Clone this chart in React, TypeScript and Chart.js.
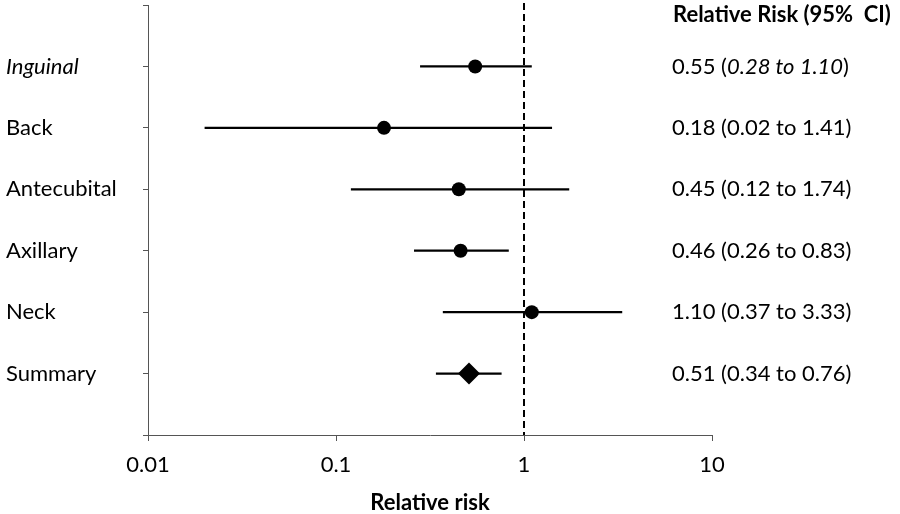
import React, { useEffect, useRef } from "react";
import { Chart, registerables } from "chart.js";

Chart.register(...registerables);

const categories = ["Inguinal", "Back", "Antecubital", "Axillary", "Neck", "Summary"];
const italicCategory = [true, false, false, false, false, false];
const relativeRisk = [0.55, 0.18, 0.45, 0.46, 1.1, 0.51];
const lowerCI = [0.28, 0.02, 0.12, 0.26, 0.37, 0.34];
const upperCI = [1.1, 1.41, 1.74, 0.83, 3.33, 0.76];
const italicCI = [true, false, false, false, false, false];
const isSummary = [false, false, false, false, false, true];
const xTickValues = [0.01, 0.1, 1, 10];
const xTickLabels = ["0.01", "0.1", "1", "10"];
const headerText = "Relative Risk (95%  CI)";
const xTitleText = "Relative risk";
const referenceValue = 1;

const FONT = "Lato, 'Open Sans', sans-serif";
const FS = 22;

export default function App() {
  const ref = useRef<HTMLCanvasElement | null>(null);

  useEffect(() => {
    if (!ref.current) return;

    const forestPlugin = {
      id: "forest",
      beforeDatasetsDraw(chart: any) {
        const { ctx, chartArea } = chart;
        const xs = chart.scales.x;
        const ys = chart.scales.y;
        ctx.save();
        ctx.strokeStyle = "#000";
        ctx.lineWidth = 2.2;
        for (let i = 0; i < categories.length; i++) {
          const y = ys.getPixelForValue(i + 1);
          ctx.beginPath();
          ctx.moveTo(xs.getPixelForValue(lowerCI[i]), y);
          ctx.lineTo(xs.getPixelForValue(upperCI[i]), y);
          ctx.stroke();
        }
        const rx = xs.getPixelForValue(referenceValue);
        ctx.setLineDash([7, 4]);
        ctx.lineWidth = 2;
        ctx.beginPath();
        ctx.moveTo(rx, chartArea.top - 2);
        ctx.lineTo(rx, chartArea.bottom);
        ctx.stroke();
        ctx.restore();
      },
      afterDraw(chart: any) {
        const { ctx } = chart;
        const ys = chart.scales.y;
        const x0 = 672;
        ctx.save();
        ctx.fillStyle = "#000";
        ctx.textBaseline = "middle";
        ctx.textAlign = "left";
        ctx.font = `bold ${FS}px ${FONT}`;
        ctx.fillText(headerText, 673, 15);
        for (let i = 0; i < categories.length; i++) {
          const y = ys.getPixelForValue(i + 1);
          const parts = [
            { t: relativeRisk[i].toFixed(2) + " (", it: false },
            { t: lowerCI[i].toFixed(2) + " to " + upperCI[i].toFixed(2), it: italicCI[i] },
            { t: ")", it: false },
          ];
          let x = x0;
          for (const p of parts) {
            ctx.font = `${p.it ? "italic " : ""}${FS}px ${FONT}`;
            ctx.fillText(p.t, x, y);
            x += ctx.measureText(p.t).width;
          }
        }
        ctx.restore();
      },
    };

    const chart = new Chart(ref.current, {
      type: "scatter",
      data: {
        datasets: [
          {
            data: relativeRisk.map((v, i) => ({ x: v, y: i + 1 })),
            pointStyle: isSummary.map((s) => (s ? "rectRot" : "circle")) as any,
            pointRadius: isSummary.map((s) => (s ? 11 : 7)),
            backgroundColor: "#000",
            borderColor: "#000",
            borderWidth: 0,
          },
        ],
      },
      options: {
        animation: false,
        responsive: false,
        maintainAspectRatio: false,
        layout: { autoPadding: false, padding: { left: 6, right: 188, top: 5, bottom: 0 } },
        plugins: {
          legend: { display: false },
          tooltip: { enabled: false },
        },
        scales: {
          x: {
            type: "logarithmic",
            min: 0.01,
            max: 10,
            afterBuildTicks: (scale: any) => {
              scale.ticks = xTickValues.map((v) => ({ value: v }));
            },
            afterFit: (scale: any) => {
              scale.height = 79;
              scale.paddingLeft = 0;
              scale.paddingRight = 0;
            },
            ticks: {
              autoSkip: false,
              maxRotation: 0,
              padding: 11,
              color: "#000",
              font: { family: FONT, size: FS },
              callback: (v: any) => {
                const idx = xTickValues.indexOf(Number(v));
                return idx >= 0 ? xTickLabels[idx] : "";
              },
            },
            grid: {
              drawOnChartArea: false,
              drawTicks: true,
              tickLength: 6,
              color: "#555",
            },
            border: { color: "#555", width: 1 },
            title: {
              display: true,
              text: xTitleText,
              color: "#000",
              font: { family: FONT, size: FS, weight: "bold", lineHeight: 1.0 },
              padding: { top: 0, bottom: 0 },
            },
          },
          y: {
            type: "linear",
            min: 0,
            max: 7,
            reverse: true,
            afterBuildTicks: (scale: any) => {
              scale.ticks = [0, 1, 2, 3, 4, 5, 6, 7].map((v) => ({ value: v }));
            },
            afterFit: (scale: any) => {
              scale.width = 142;
              scale.paddingTop = 0;
              scale.paddingBottom = 0;
            },
            ticks: {
              autoSkip: false,
              crossAlign: "far",
              color: "#000",
              font: (ctx: any) => {
                const v = ctx.tick ? ctx.tick.value : 0;
                const idx = v - 1;
                return {
                  family: FONT,
                  size: FS,
                  style: idx >= 0 && idx < categories.length && italicCategory[idx] ? "italic" : "normal",
                };
              },
              callback: (v: any) => {
                const idx = Number(v) - 1;
                return idx >= 0 && idx < categories.length ? categories[idx] : "";
              },
            },
            grid: {
              drawOnChartArea: false,
              drawTicks: true,
              tickLength: 5,
              color: "#555",
            },
            border: { color: "#555", width: 1 },
          },
        },
      },
      plugins: [forestPlugin],
    });

    return () => chart.destroy();
  }, []);

  return (
    <div style={{ position: "absolute", left: 0, top: 0, width: 900, height: 514, background: "#fff" }}>
      <canvas ref={ref} width={900} height={514} style={{ display: "block", width: 900, height: 514 }} />
    </div>
  );
}
